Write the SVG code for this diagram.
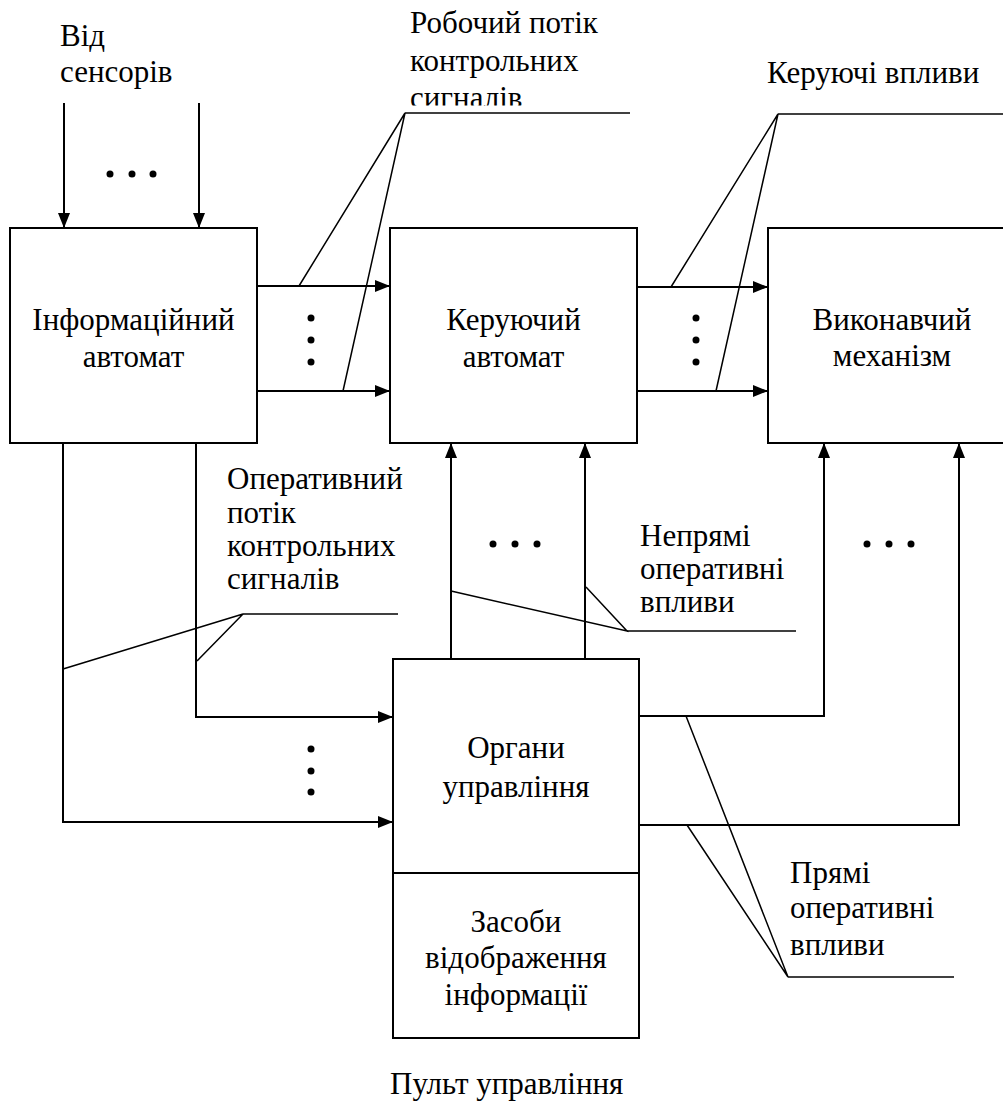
<svg xmlns="http://www.w3.org/2000/svg" width="1003" height="1102" viewBox="0 0 1003 1102">
<style>
text{font-family:"Liberation Serif","Times New Roman","DejaVu Serif",serif;font-size:31px;fill:#000}
.box{fill:#fff;stroke:#000;stroke-width:2}
.c{text-anchor:middle}
.ln{fill:none;stroke:#000;stroke-width:2}
.ld{fill:none;stroke:#000;stroke-width:1.5}
.dot{fill:#000}
</style>
<defs>
<marker id="ah" markerUnits="userSpaceOnUse" markerWidth="16" markerHeight="12" refX="15" refY="6" orient="auto">
<path d="M0,0 L15,6 L0,12 z" fill="#000"/>
</marker>
<clipPath id="clipTop"><rect x="400" y="0" width="300" height="105.5"/></clipPath>
</defs>

<g id="labels">
<text x="390" y="1094">Пульт управління</text>
<text x="60" y="46">Від</text>
<text x="60" y="82">сенсорів</text>
<text x="410" y="33">Робочий потік</text>
<text x="410" y="71">контрольних</text>
<text x="410" y="108" clip-path="url(#clipTop)">сигналів</text>
<text x="767" y="83">Керуючі впливи</text>
<text x="227" y="489">Оперативний</text>
<text x="227" y="523">потік</text>
<text x="227" y="556">контрольних</text>
<text x="227" y="589">сигналів</text>
<text x="640" y="546">Непрямі</text>
<text x="640" y="579">оперативні</text>
<text x="640" y="612">впливи</text>
<text x="790" y="883">Прямі</text>
<text x="790" y="918">оперативні</text>
<text x="790" y="955">впливи</text>
</g>

<g id="connectors">
<line class="ln" x1="64" y1="103" x2="64" y2="228" marker-end="url(#ah)"/>
<line class="ln" x1="199" y1="103" x2="199" y2="228" marker-end="url(#ah)"/>
<line class="ln" x1="257" y1="286" x2="390" y2="286" marker-end="url(#ah)"/>
<line class="ln" x1="257" y1="391" x2="390" y2="391" marker-end="url(#ah)"/>
<line class="ln" x1="637" y1="287" x2="768" y2="287" marker-end="url(#ah)"/>
<line class="ln" x1="637" y1="391" x2="768" y2="391" marker-end="url(#ah)"/>
<polyline class="ln" points="196,443 196,717 393,717" marker-end="url(#ah)"/>
<polyline class="ln" points="63,443 63,822 393,822" marker-end="url(#ah)"/>
<line class="ln" x1="451" y1="659" x2="451" y2="443" marker-end="url(#ah)"/>
<line class="ln" x1="585" y1="659" x2="585" y2="443" marker-end="url(#ah)"/>
<polyline class="ln" points="639,716 824,716 824,443" marker-end="url(#ah)"/>
<polyline class="ln" points="639,825 959,825 959,443" marker-end="url(#ah)"/>
<polyline class="ld" points="299,286 405,113 343,391"/>
<line class="ld" x1="405" y1="113" x2="630" y2="113"/>
<polyline class="ld" points="671,287 778,114 716,391"/>
<line class="ld" x1="778" y1="114" x2="1003" y2="114"/>
<polyline class="ld" points="63,669 243,614 197,661"/>
<line class="ld" x1="243" y1="614" x2="398" y2="614"/>
<polyline class="ld" points="451,591 627,631 586,587"/>
<line class="ld" x1="627" y1="631" x2="796" y2="631"/>
<polyline class="ld" points="686,716 788,977 687,825"/>
<line class="ld" x1="788" y1="977" x2="954" y2="977"/>
<circle class="dot" cx="110" cy="174" r="3.5"/><circle class="dot" cx="132" cy="174" r="3.5"/><circle class="dot" cx="153" cy="174" r="3.5"/>
<circle class="dot" cx="311" cy="318" r="3.5"/><circle class="dot" cx="311" cy="340" r="3.5"/><circle class="dot" cx="311" cy="362" r="3.5"/>
<circle class="dot" cx="696" cy="318" r="3.5"/><circle class="dot" cx="696" cy="340" r="3.5"/><circle class="dot" cx="696" cy="362" r="3.5"/>
<circle class="dot" cx="493" cy="544" r="3.5"/><circle class="dot" cx="515" cy="544" r="3.5"/><circle class="dot" cx="537" cy="544" r="3.5"/>
<circle class="dot" cx="867" cy="544" r="3.5"/><circle class="dot" cx="889" cy="544" r="3.5"/><circle class="dot" cx="911" cy="544" r="3.5"/>
<circle class="dot" cx="311" cy="749" r="3.5"/><circle class="dot" cx="311" cy="771" r="3.5"/><circle class="dot" cx="311" cy="792" r="3.5"/>
</g>

<g id="node-info">
<rect class="box" x="10" y="228" width="247" height="215"/>
<text class="c" x="133.5" y="330">Інформаційний</text>
<text class="c" x="133.5" y="367">автомат</text>
</g>
<g id="node-control">
<rect class="box" x="390" y="228" width="247" height="215"/>
<text class="c" x="513.5" y="330">Керуючий</text>
<text class="c" x="513.5" y="367">автомат</text>
</g>
<g id="node-exec">
<rect class="box" x="768" y="228" width="250" height="215"/>
<text class="c" x="892" y="330">Виконавчий</text>
<text class="c" x="892" y="366">механізм</text>
</g>
<g id="node-organs">
<rect class="box" x="393" y="659" width="246" height="214"/>
<text class="c" x="516" y="758">Органи</text>
<text class="c" x="516" y="797">управління</text>
</g>
<g id="node-display">
<rect class="box" x="393" y="873" width="246" height="165"/>
<text class="c" x="516" y="932">Засоби</text>
<text class="c" x="516" y="968">відображення</text>
<text class="c" x="516" y="1005">інформації</text>
</g>
</svg>
